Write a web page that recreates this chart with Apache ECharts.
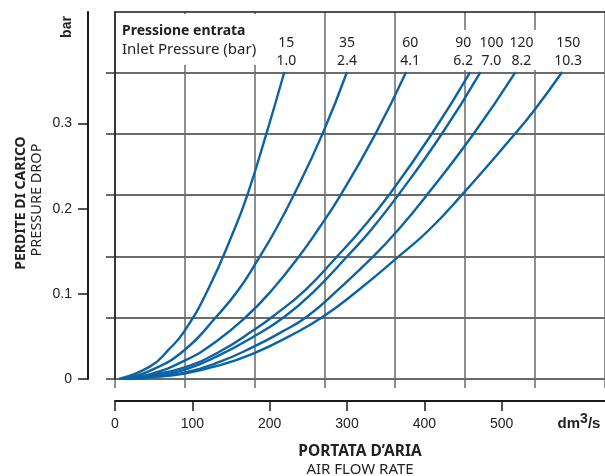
<!DOCTYPE html>
<html>
<head>
<meta charset="utf-8">
<title>Perdite di carico</title>
<script src="https://cdn.jsdelivr.net/npm/echarts@6/dist/echarts.min.js"></script>
<style>
  html, body { margin: 0; padding: 0; background: #fff; }
  #ct { width: 605px; height: 476px; }
</style>
</head>
<body>
<div id="ct"></div>
<script>
// inlet pressure of each curve: psi on top, bar below
const psiLabels = ['15', '35', '60', '90', '100', '120', '150'];
const barLabels = ['1.0', '2.4', '4.1', '6.2', '7.0', '8.2', '10.3'];

// air flow (dm3/s) / pressure drop (bar)
const flow15 = [5, 45, 70, 90, 120, 154, 171, 195.5, 219];
const drop15 = [0, 0.0145, 0.035, 0.0565, 0.1045, 0.175, 0.2157, 0.2873, 0.3605];
const flow35 = [8, 45, 90, 131, 159.5, 185, 207.5, 231, 268, 300];
const drop35 = [0, 0.0095, 0.034, 0.0731, 0.1045, 0.1405, 0.175, 0.2157, 0.2873, 0.3605];
const flow60 = [10, 45, 90, 130, 169.6, 203, 238.6, 262.2, 291.5, 336.5, 376.5];
const drop60 = [0, 0.0055, 0.0215, 0.0435, 0.0731, 0.1045, 0.1448, 0.175, 0.2157, 0.2873, 0.3605];
const flow90 = [12, 45, 90, 135, 179.5, 203.6, 246, 288, 318, 354, 409.5, 459.3];
const drop90 = [0, 0.0045, 0.0137, 0.032, 0.0575, 0.0731, 0.1045, 0.1448, 0.175, 0.2157, 0.2877, 0.3605];
const flow100 = [14, 45, 90, 135, 179.5, 219.2, 259, 301, 331, 366, 422.5, 472.6];
const drop100 = [0, 0.003, 0.0108, 0.028, 0.05, 0.0731, 0.1045, 0.1448, 0.175, 0.2157, 0.2877, 0.3605];
const flow120 = [16, 45, 90, 135, 179.5, 215, 248, 288, 335, 366, 403, 463.5, 517.8];
const drop120 = [0, 0.002, 0.0075, 0.02, 0.038, 0.055, 0.0731, 0.1045, 0.1448, 0.175, 0.2157, 0.2877, 0.3605];
const flow150 = [18, 45, 90, 135, 179.5, 225, 268.9, 315, 368, 406, 448, 517, 542.4, 578.2];
const drop150 = [0, 0.0018, 0.0065, 0.016, 0.0302, 0.05, 0.0731, 0.1045, 0.1448, 0.175, 0.2157, 0.2877, 0.3158, 0.3605];

// axis ticks
const xTicks = [0, 100, 200, 300, 400, 500];
const xUnitAt = 600;               // where "dm3/s" sits on the scale
const yTicks = [0, 0.1, 0.2, 0.3];
// background rules (not aligned with the ticks in the original)
const xRuleStep = 90.4;
const yRuleStep = 0.072;
const xMax = 633.6;
const yMax = 0.431;

const flows = [flow15, flow35, flow60, flow90, flow100, flow120, flow150];
const drops = [drop15, drop35, drop60, drop90, drop100, drop120, drop150];
// horizontal nudge of the pressure labels above each curve end
const labelShift = [2, 0, 4, -7, 11, 6, 6];

const blue = '#0b63a6';
const ink = '#1a1a1a';
const tickFont = 'Liberation Sans, Arial, sans-serif';
const textFont = 'Noto Sans, sans-serif';

const chart = echarts.init(document.getElementById('ct'));

const series = flows.map((fx, i) => ({
  name: psiLabels[i],
  type: 'line',
  xAxisIndex: 0,
  yAxisIndex: 0,
  smooth: 0.5,
  symbol: 'circle',
  symbolSize: 0,
  showAllSymbol: true,
  lineStyle: { color: blue, width: 2.4 },
  itemStyle: { color: blue },
  z: 3,
  data: fx.map((q, j) => {
    const pt = { value: [q, drops[i][j]] };
    if (j === fx.length - 1) {
      pt.label = {
        show: true,
        position: 'top',
        distance: 2,
        offset: [labelShift[i], 0],
        formatter: psiLabels[i] + '\n' + barLabels[i],
        fontFamily: textFont,
        fontSize: 14,
        lineHeight: 18,
        color: '#222',
        align: 'center',
        backgroundColor: '#fff',
        padding: [4, 3, 0, 3]
      };
    }
    return pt;
  })
}));

const option = {
  animation: false,
  backgroundColor: '#fff',
  grid: [
    { left: 115, right: 0, top: 12, bottom: 97 },   // curves
    { left: 106, right: 0, top: 12, bottom: 97 },   // horizontal rules
    { left: 115, right: 0, top: 12, bottom: 88 }    // vertical rules
  ],
  xAxis: [
    {
      gridIndex: 0, type: 'value', position: 'bottom', offset: 22,
      min: 0, max: xMax,
      axisLine: { show: true, onZero: false, lineStyle: { color: ink, width: 2 } },
      axisTick: { show: true, customValues: xTicks, length: 10, lineStyle: { color: ink, width: 1.5 } },
      axisLabel: {
        customValues: xTicks.concat([xUnitAt]),
        margin: 11,
        lineHeight: 24,
        fontFamily: tickFont, fontSize: 14, color: '#222',
        formatter: v => v === xUnitAt ? '{u|dm}{s|3}{u|/s}' : String(v),
        rich: {
          u: { fontFamily: tickFont, fontSize: 15, fontWeight: 'bold', lineHeight: 24, color: '#222' },
          s: { fontFamily: tickFont, fontSize: 14, fontWeight: 'bold', lineHeight: 14, verticalAlign: 'top', color: '#222' }
        }
      },
      splitLine: { show: false }
    },
    {
      // top border of the plot box
      gridIndex: 0, type: 'value', position: 'top', min: 0, max: xMax,
      axisLine: { show: true, onZero: false, lineStyle: { color: ink, width: 1.5 } },
      axisTick: { show: false }, axisLabel: { show: false }, splitLine: { show: false }
    },
    { gridIndex: 1, type: 'value', show: false, min: 0, max: 1 },
    {
      gridIndex: 2, type: 'value', min: 0, max: xMax, interval: xRuleStep,
      axisLine: { show: false }, axisTick: { show: false }, axisLabel: { show: false },
      splitLine: { show: true, showMaxLine: false, lineStyle: { color: '#6a6a6a', width: 1.5 } }
    }
  ],
  yAxis: [
    {
      gridIndex: 0, type: 'value', position: 'left', offset: 27,
      min: 0, max: yMax,
      axisLine: { show: true, onZero: false, lineStyle: { color: ink, width: 2 } },
      axisTick: { show: true, customValues: yTicks, length: 10, lineStyle: { color: ink, width: 1.5 } },
      axisLabel: {
        customValues: yTicks,
        margin: 16,
        fontFamily: tickFont, fontSize: 14, color: '#222',
        formatter: v => v === 0 ? '0' : v.toFixed(1)
      },
      splitLine: { show: false }
    },
    {
      // left border of the plot box
      gridIndex: 0, type: 'value', position: 'left', min: 0, max: yMax,
      axisLine: { show: true, onZero: false, lineStyle: { color: ink, width: 1.5 } },
      axisTick: { show: false }, axisLabel: { show: false }, splitLine: { show: false }
    },
    {
      gridIndex: 1, type: 'value', min: 0, max: yMax, interval: yRuleStep,
      axisLine: { show: false }, axisTick: { show: false }, axisLabel: { show: false },
      splitLine: { show: true, showMaxLine: false, lineStyle: { color: '#3a3a3a', width: 1.5 } }
    },
    { gridIndex: 2, type: 'value', show: false, min: 0, max: 1 }
  ],
  graphic: [
    // blank patch behind the legend title (the rules stop below it)
    { type: 'rect', z: 10, shape: { x: 117, y: 14, width: 146, height: 51 }, style: { fill: '#fff' } },
    {
      type: 'text', z: 11, x: 122, y: 31,
      style: { text: 'Pressione entrata', fontFamily: textFont, fontSize: 14, fontWeight: 'bold', fill: '#222',
        textAlign: 'left', textVerticalAlign: 'middle', align: 'left', verticalAlign: 'middle' }
    },
    {
      type: 'text', z: 11, x: 122, y: 50,
      style: { text: 'Inlet Pressure (bar)', fontFamily: textFont, fontSize: 15, fill: '#222',
        textAlign: 'left', textVerticalAlign: 'middle', align: 'left', verticalAlign: 'middle' }
    },
    {
      type: 'text', z: 11, x: 67, y: 27, rotation: Math.PI / 2,
      style: { text: 'bar', fontFamily: tickFont, fontSize: 14, fontWeight: 'bold', fill: '#222',
        textAlign: 'center', textVerticalAlign: 'middle', align: 'center', verticalAlign: 'middle' }
    },
    {
      type: 'text', z: 11, x: 21, y: 203, rotation: Math.PI / 2,
      style: { text: 'PERDITE DI CARICO', fontFamily: textFont, fontSize: 14, fontWeight: 'bold', fill: '#222',
        textAlign: 'center', textVerticalAlign: 'middle', align: 'center', verticalAlign: 'middle' }
    },
    {
      type: 'text', z: 11, x: 37, y: 200, rotation: Math.PI / 2,
      style: { text: 'PRESSURE DROP', fontFamily: textFont, fontSize: 14.5, fill: '#222',
        textAlign: 'center', textVerticalAlign: 'middle', align: 'center', verticalAlign: 'middle' }
    },
    {
      type: 'text', z: 11, x: 360, y: 452,
      style: { text: 'PORTATA D\u2019ARIA', fontFamily: textFont, fontSize: 15.5, fontWeight: 'bold', fill: '#222',
        textAlign: 'center', textVerticalAlign: 'middle', align: 'center', verticalAlign: 'middle' }
    },
    {
      type: 'text', z: 11, x: 360, y: 470,
      style: { text: 'AIR FLOW RATE', fontFamily: textFont, fontSize: 15, fill: '#222',
        textAlign: 'center', textVerticalAlign: 'middle', align: 'center', verticalAlign: 'middle' }
    }
  ],
  series: series
};

chart.setOption(option);
</script>
</body>
</html>
